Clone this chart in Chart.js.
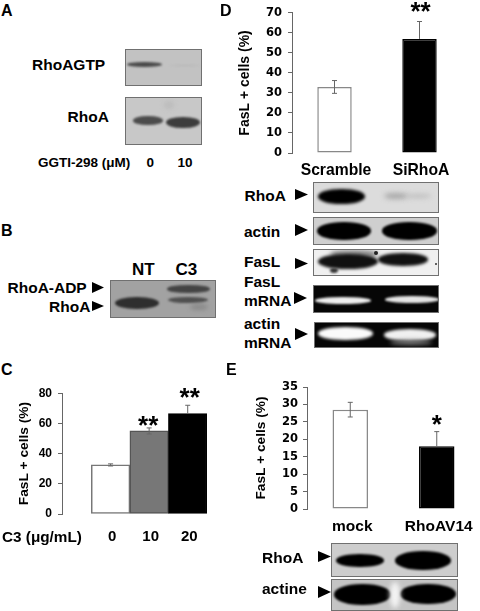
<!DOCTYPE html>
<html>
<head>
<meta charset="utf-8">
<script src="https://cdn.jsdelivr.net/npm/chart.js@4"></script>
<style>
  html, body { margin: 0; background: #fff; }
  #page { position: relative; width: 480px; height: 611px; overflow: hidden; font-family: "Liberation Sans", Arial, sans-serif; font-weight: bold; color: #000; }
  #page canvas { position: absolute; }
  .lab { position: absolute; white-space: nowrap; line-height: 1; transform: translateY(-50%); }
  .blot { position: absolute; overflow: hidden; box-sizing: border-box; border: 1.5px solid #707070; }
  .band { position: absolute; border-radius: 48%; }
  .arrow { position: absolute; background: #000; clip-path: polygon(0 0, 100% 50%, 0 100%); }
</style>
</head>
<body>
<div id="page">
  <canvas id="chartC" width="240" height="165" style="left:0;top:380px"></canvas>
  <canvas id="chartD" width="250" height="182" style="left:230px;top:0"></canvas>
  <canvas id="chartE" width="230" height="170" style="left:250px;top:370px"></canvas>
</div>
<script>
// panel C
const doses = ['0', '10', '20'];
const valuesC = [32.5, 55, 66.5];
const upC = [0.7, 2, 5.5];
const downC = [0.7, 2, 0];
const starsC = ['', '**', '**'];
const ticksC = [0, 20, 40, 60, 80];

// panel D
const groupsD = ['Scramble', 'SiRhoA'];
const valuesD = [33, 57];
const upD = [3.2, 8.7];
const downD = [3.2, 0];
const starsD = ['', '**'];
const ticksD = [0, 10, 20, 30, 40, 50, 60, 70];

// panel E
const groupsE = ['mock', 'RhoAV14'];
const valuesE = [28.5, 18];
const upE = [2.1, 4.2];
const downE = [2.1, 0];
const starsE = ['', '*'];
const ticksE = [0, 5, 10, 15, 20, 25, 30, 35];

const page = document.getElementById('page');
const ARIAL = '"Liberation Sans", Arial, sans-serif';
const DEJAVU = '"DejaVu Sans", Verdana, sans-serif';

// error bars and stars, on top of the bars
const errorPlugin = {
  id: 'errorPlugin',
  afterDatasetsDraw(chart, args, o) {
    const c = chart.ctx, y = chart.scales.y, bars = chart.getDatasetMeta(0).data;
    bars.forEach((bar, i) => {
      const top = y.getPixelForValue(o.values[i] + o.up[i]);
      const bottom = y.getPixelForValue(o.values[i] - o.down[i]);
      c.save();
      c.strokeStyle = '#666';
      c.lineWidth = 1;
      c.beginPath();
      c.moveTo(bar.x, top); c.lineTo(bar.x, bottom);
      c.moveTo(bar.x - 2.5, top); c.lineTo(bar.x + 2.5, top);
      if (o.down[i] > 0) { c.moveTo(bar.x - 2.5, bottom); c.lineTo(bar.x + 2.5, bottom); }
      c.stroke();
      if (o.stars[i]) {
        c.fillStyle = '#000';
        c.font = 'bold ' + o.starSize + 'px ' + ARIAL;
        c.textAlign = 'center';
        c.textBaseline = 'alphabetic';
        c.fillText(o.stars[i], bar.x + o.starShift[i], top - o.starGap[i] + o.starSize * 0.46);
      }
      c.restore();
    });
  }
};

function fasLChart(id, p) {
  const x = p.linearX ? {
    type: 'linear', min: p.linearX[0], max: p.linearX[1], offset: false,
    afterBuildTicks: s => { s.ticks = p.labels.map((_, i) => ({ value: i })); },
  } : { type: 'category', offset: true };
  Object.assign(x, {
    grid: { display: false, drawTicks: false },
    border: { display: false },
    afterFit: s => { s.height = p.xHeight; },
    ticks: Object.assign({
      color: '#000', padding: p.xPad, labelOffset: p.xShift, autoSkip: false, maxRotation: 0, minRotation: 0,
      font: { family: ARIAL, size: p.xSize, weight: 'bold' },
    }, p.linearX ? { callback: v => p.labels[v] } : {}),
  });
  return new Chart(document.getElementById(id), {
    type: 'bar',
    data: {
      labels: p.labels,
      datasets: [{
        data: p.linearX ? p.values.map((v, i) => ({ x: i, y: v })) : p.values,
        backgroundColor: p.fills,
        borderColor: p.edges,
        borderWidth: 1.5,
        borderSkipped: false,
        barPercentage: p.barPct,
        categoryPercentage: 1,
      }],
    },
    plugins: [errorPlugin],
    options: {
      responsive: false,
      animation: false,
      layout: { padding: { left: p.left, top: p.top, right: p.right, bottom: 0 } },
      plugins: {
        legend: { display: false },
        tooltip: { enabled: false },
        errorPlugin: { values: p.values, up: p.up, down: p.down, stars: p.stars, starSize: p.starSize, starGap: p.starGap, starShift: p.starShift },
      },
      scales: {
        x,
        y: {
          min: 0, max: p.yTicks[p.yTicks.length - 1],
          afterFit: s => { s.width = p.yWidth; },
          afterBuildTicks: s => { s.ticks = p.yTicks.map(v => ({ value: v })); },
          border: { display: true, color: '#666', width: 1 },
          grid: { drawOnChartArea: false, drawTicks: true, tickLength: 4, color: '#666' },
          ticks: { color: '#000', padding: p.yPad, font: { family: p.tickFamily, size: p.tickSize, weight: 'bold' } },
          title: { display: true, text: 'FasL + cells (%)', color: '#000', padding: 0, font: { family: ARIAL, size: p.titleSize, weight: 'bold', lineHeight: 1.2 } },
        },
      },
    },
  });
}

fasLChart('chartC', {
  labels: doses, values: valuesC, up: upC, down: downC, stars: starsC, yTicks: ticksC,
  linearX: [-1.26, 2.5],
  fills: ['#fff', '#777', '#000'], edges: ['#777', '#555', '#000'], barPct: 1,
  left: 16, top: 12, right: 33, xHeight: 31, yWidth: 46, xPad: 14, xSize: 15, xShift: 1.5, yPad: 6,
  tickFamily: ARIAL, tickSize: 12, titleSize: 13.7, starSize: 26,
  starGap: [0, 6.3, 11], starShift: [0, -1, 2],
});
fasLChart('chartD', {
  labels: groupsD, values: valuesD, up: upD, down: downD, stars: starsD, yTicks: ticksD,
  fills: ['#fff', '#000'], edges: ['#888', '#000'], barPct: 0.405,
  left: 7, top: 11, right: 18, xHeight: 29, yWidth: 55, xPad: 8, xSize: 15.7, xShift: 1.5, yPad: 6,
  tickFamily: DEJAVU, tickSize: 11.5, titleSize: 14, starSize: 26,
  starGap: [0, 13.7], starShift: [0, 1],
});
fasLChart('chartE', {
  labels: groupsE, values: valuesE, up: upE, down: downE, stars: starsE, yTicks: ticksE,
  fills: ['#fff', '#000'], edges: ['#888', '#000'], barPct: 0.41,
  left: 3, top: 17, right: 0, xHeight: 31, yWidth: 54, xPad: 8, xSize: 15.5, xShift: 2, yPad: 5,
  tickFamily: DEJAVU, tickSize: 11.5, titleSize: 13.7, starSize: 26,
  starGap: [0, 10.8], starShift: [0, 0],
});

// text, gel pictures and arrowheads around the charts
function lab(text, x, y, size) {
  const d = document.createElement('div');
  d.className = 'lab';
  d.textContent = text;
  d.style.cssText = 'left:' + x + 'px;top:' + y + 'px;font-size:' + size + 'px';
  page.appendChild(d);
}
function blot(x, y, w, h, bg, bands) {
  const d = document.createElement('div');
  d.className = 'blot';
  d.style.cssText = 'left:' + x + 'px;top:' + y + 'px;width:' + w + 'px;height:' + h + 'px;background:' + bg;
  bands.forEach(b => {
    const e = document.createElement('div');
    e.className = 'band';
    e.style.cssText = 'left:' + (b[0] - x - 1.5) + 'px;top:' + (b[1] - y - 1.5) + 'px;width:' + b[2] + 'px;height:' + b[3] +
      'px;background:' + b[4] + ';filter:blur(' + b[5] + 'px)';
    d.appendChild(e);
  });
  page.appendChild(d);
}
function arrow(x, y, w, h) {
  const d = document.createElement('div');
  d.className = 'arrow';
  d.style.cssText = 'left:' + x + 'px;top:' + y + 'px;width:' + w + 'px;height:' + h + 'px';
  page.appendChild(d);
}

lab('A', 1, 11, 16); lab('D', 220, 11, 16); lab('B', 1, 231, 16); lab('C', 1, 370, 16); lab('E', 226, 370, 16);

// A
lab('RhoAGTP', 32, 64.5, 15.5);
lab('RhoA', 67.5, 117, 15.5);
lab('GGTI-298 (μM)', 38, 163, 13.5);
lab('0', 146.5, 163, 13.5);
lab('10', 177.5, 163, 13.5);
blot(125, 49, 77, 37, '#c2c2c2', [[127, 62.5, 35, 5, '#4a4a4a', 1.2], [170, 65, 30, 1.5, '#b4b4b4', 1]]);
blot(125, 97, 77, 48, '#c8c8c8', [[133, 116.5, 30, 9, '#4c4c4c', 1.2], [166, 117, 34, 11.5, '#3c3c3c', 1.2], [164, 101, 10, 8, '#bcbcbc', 2]]);

// B
lab('NT', 132, 269, 17); lab('C3', 175.5, 269, 17);
lab('RhoA-ADP', 7.5, 288, 15.5);
lab('RhoA', 49, 306.5, 15.5);
arrow(92, 282, 12, 11); arrow(92, 301, 12, 10);
blot(110, 280, 106, 38, '#a2a2a2', [[115, 297, 44, 12.5, '#2e2e2e', 1.2], [167, 285.5, 43, 8, '#444', 1.2], [168, 297, 40, 6, '#505050', 1.2], [190, 304, 18, 6, '#8a8a8a', 2]]);

// C
lab('C3 (μg/mL)', 2, 537, 15.3);

// D
lab('RhoA', 244.5, 196, 15.5);
lab('actin', 244, 232, 15.5);
lab('FasL', 244, 262, 15.5);
lab('FasL', 244, 282, 15.5);
lab('mRNA', 244, 301, 15.5);
lab('actin', 244, 324, 15.5);
lab('mRNA', 244, 343, 15.5);
arrow(295, 189, 13, 11); arrow(295, 224, 13, 12); arrow(295, 258, 13, 11); arrow(294, 292, 13, 12); arrow(295, 328, 13, 12);
blot(313, 182, 126, 31, '#dcdcdc', [[318, 189, 47, 15, '#000', 1.5], [384, 193, 24, 6, '#a8a8a8', 2.5], [405, 194, 26, 4, '#bcbcbc', 2.5]]);
blot(313, 217, 126, 28, '#cfcfcf', [[317, 222.5, 54, 18, '#000', 1.2], [382, 222.5, 55, 18, '#000', 1.2]]);
blot(313, 249, 126, 27, '#f0f0f0', [[330, 250, 48, 8, '#888', 2], [318, 254, 60, 15, '#111', 1.5], [378, 253, 50, 13, '#111', 1.5], [330, 268, 8, 5, '#333', 1], [374, 251, 4, 4, '#222', 0.5], [435, 263, 2, 2, '#333', 0.3]]);
blot(313, 285, 126, 28, '#060606', [[315, 297.5, 56, 7, '#eee', 1.2], [385, 296.5, 54, 7, '#e4e4e4', 1.2]]);
blot(314, 322, 125, 26, '#060606', [[318, 327, 55, 13, '#fafafa', 1.5], [384, 329, 52, 12, '#f0f0f0', 1.5], [390, 340, 42, 5, '#777', 2]]);

// E
lab('RhoA', 262, 558, 15.5);
lab('actine', 262, 589, 15.5);
arrow(318, 551, 13, 11); arrow(318, 586, 13, 12);
blot(331, 543, 127, 34, '#cdcdcd', [[336, 554.5, 48, 13, '#000', 1], [395, 551, 56, 19, '#000', 1]]);
blot(331, 579, 127, 32, '#c4c4c4', [[334, 584, 57, 21, '#000', 1.2], [400, 584, 56, 20, '#000', 1.2], [390, 582, 10, 26, '#f4f4f4', 2.5]]);
</script>
</body>
</html>
